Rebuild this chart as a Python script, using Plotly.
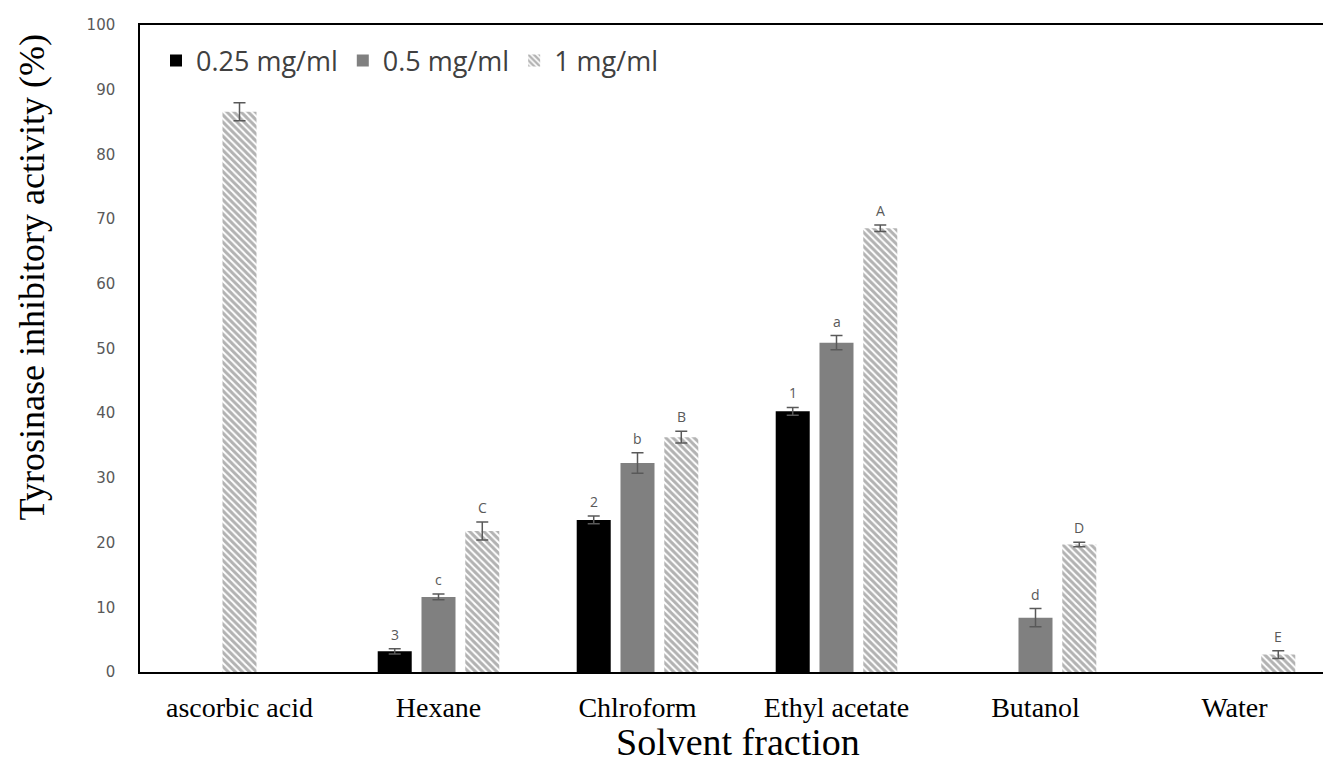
import plotly.graph_objects as go

categories = ["ascorbic acid", "Hexane", "Chlroform", "Ethyl acetate", "Butanol", "Water"]
series_names = ["0.25 mg/ml", "0.5 mg/ml", "1 mg/ml"]

vals_025 = [None, 3.2, 23.5, 40.3, None, None]
err_025 = [None, 0.4, 0.6, 0.6, None, None]
lab_025 = ["", "3", "2", "1", "", ""]

vals_05 = [None, 11.6, 32.3, 50.9, 8.4, None]
err_05 = [None, 0.45, 1.6, 1.1, 1.4, None]
lab_05 = ["", "c", "b", "a", "d", ""]

vals_1 = [86.6, 21.8, 36.3, 68.6, 19.7, 2.7]
err_1 = [1.4, 1.4, 0.9, 0.5, 0.35, 0.6]
lab_1 = ["", "C", "B", "A", "D", "E"]

y_ticks = [0, 10, 20, 30, 40, 50, 60, 70, 80, 90, 100]

# layout constants (pixels)
W, H = 1323, 762
ML, MT, MB, MR = 140, 25, 90, 0
PW = W - ML - MR
PH = H - MT - MB
CAT_PX = 199.0
x_range = [-0.5, -0.5 + PW / CAT_PX]

bar_w = 0.171
slot = 0.22
offs_025 = [-slot] * 6
offs_05 = [0.0] * 6
offs_1 = [0.0] + [slot] * 5

fig = go.Figure()

def add_series(name, vals, errs, offs, marker):
    xs = [i + o for i, o in enumerate(offs)]
    fig.add_trace(go.Bar(
        name=name, x=xs, y=vals, width=bar_w, marker=marker,
        error_y=dict(type="data", array=errs, visible=True,
                     color="#595959", thickness=1.5, width=6),
    ))
    return xs

xs025 = add_series(series_names[0], vals_025, err_025, offs_025,
                   dict(color="#000000", line=dict(width=0)))
xs05 = add_series(series_names[1], vals_05, err_05, offs_05,
                  dict(color="#808080", line=dict(width=0)))
xs1 = add_series(series_names[2], vals_1, err_1, offs_1,
                 dict(color="#ffffff", line=dict(width=0),
                      pattern=dict(shape="\\", fgcolor="#666666", bgcolor="#ffffff",
                                   size=5, solidity=0.6)))

annotations = []
for xs, vals, errs, labs in [(xs025, vals_025, err_025, lab_025),
                             (xs05, vals_05, err_05, lab_05),
                             (xs1, vals_1, err_1, lab_1)]:
    for x, v, e, l in zip(xs, vals, errs, labs):
        if v is None or not l:
            continue
        annotations.append(dict(x=x, y=v + e, text=l, showarrow=False,
                                xref="x", yref="y", yanchor="bottom", yshift=3,
                                font=dict(family="Open Sans", size=14, color="#595959")))

annotations.append(dict(text="Tyrosinase inhibitory activity (%)", textangle=-90,
                        xref="paper", yref="paper",
                        x=(31 - ML) / PW, y=(H - MB - 277.5) / PH,
                        xanchor="center", yanchor="middle", showarrow=False,
                        font=dict(family="Liberation Serif", size=36, color="#000000")))
annotations.append(dict(text="Solvent fraction",
                        xref="paper", yref="paper",
                        x=(737.5 - ML) / PW, y=(H - MB - 742) / PH,
                        xanchor="center", yanchor="middle", showarrow=False,
                        font=dict(family="Liberation Serif", size=38, color="#000000")))

fig.update_layout(
    width=W, height=H,
    margin=dict(l=ML, r=MR, t=MT, b=MB, autoexpand=False),
    paper_bgcolor="white", plot_bgcolor="white",
    barmode="overlay",
    showlegend=True,
    legend=dict(orientation="h", x=16 / PW, y=(H - MB - 61) / PH,
                xanchor="left", yanchor="middle",
                font=dict(family="Open Sans", size=27, color="#404040"),
                bgcolor="rgba(0,0,0,0)"),
    annotations=annotations,
    xaxis=dict(range=x_range, tickvals=list(range(len(categories))), ticktext=categories,
               showline=True, linecolor="#000000", linewidth=2, mirror=True,
               ticks="", showgrid=False, zeroline=False, ticklabelstandoff=9,
               tickfont=dict(family="Liberation Serif", size=28, color="#000000")),
    yaxis=dict(range=[0, 100], tickvals=y_ticks, showline=True, linecolor="#000000",
               linewidth=1.5, ticks="", showgrid=False, zeroline=False,
               ticklabelstandoff=20,
               tickfont=dict(family="DejaVu Sans", size=15, color="#595959")),
)

fig.write_html("out.html")
